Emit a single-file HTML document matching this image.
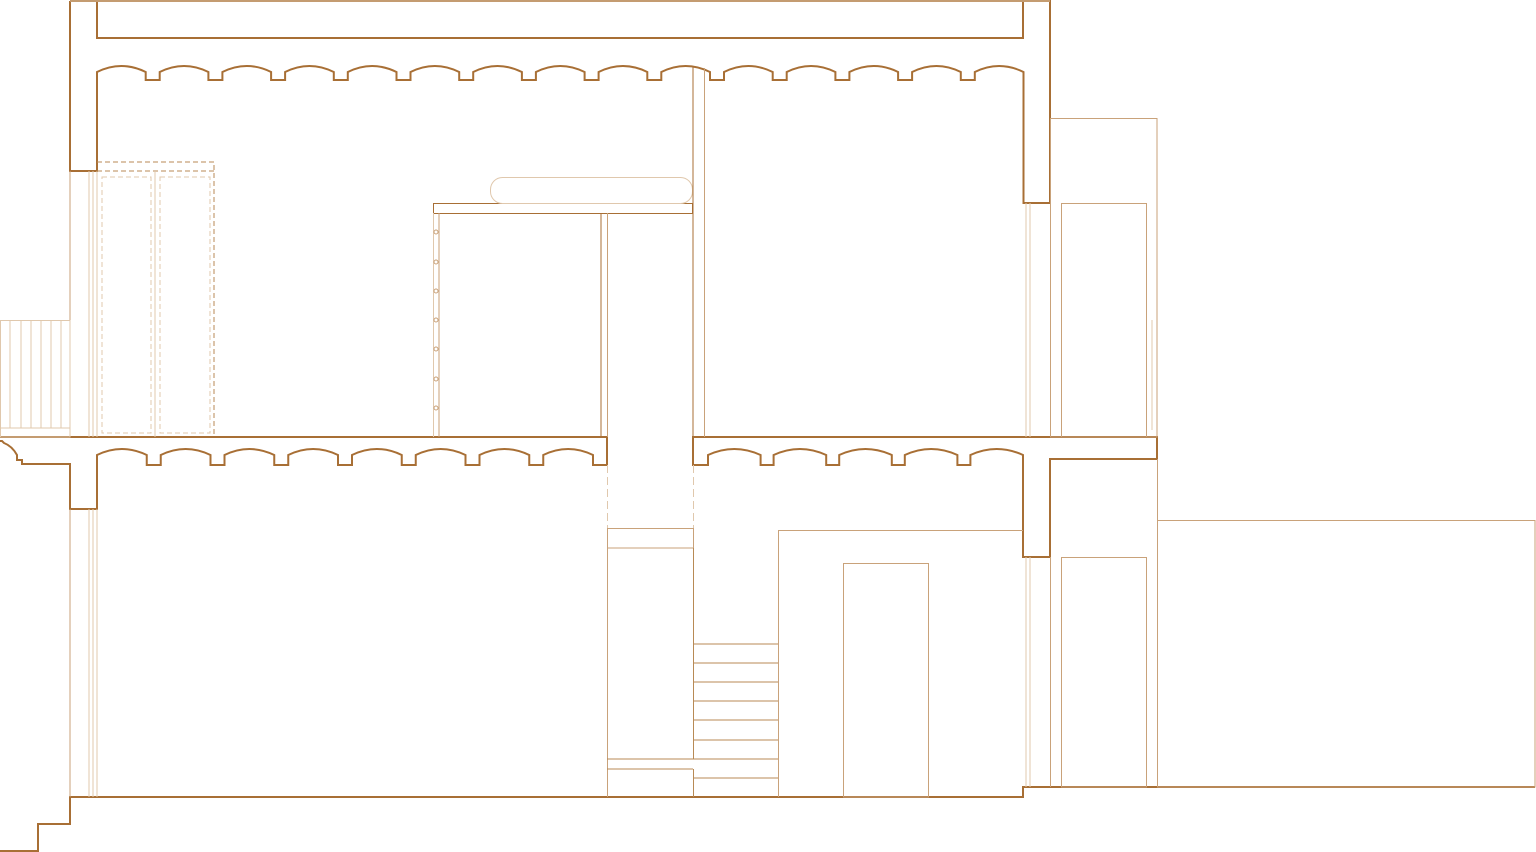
<!DOCTYPE html>
<html><head><meta charset="utf-8"><style>html,body{margin:0;padding:0;background:#fff;}svg{display:block}</style></head>
<body>
<svg width="1536" height="852" viewBox="0 0 1536 852" xmlns="http://www.w3.org/2000/svg" fill="none">
<g stroke="#a86f35" stroke-width="2" stroke-linejoin="miter">
<!-- roof -->
<path d="M97,1 V38 H1023 V1"/>
<path d="M70,1 V171 H97 V72
q24.35,-12 48.7,0 v8 h14 v-8 q24.35,-12 48.7,0 v8 h14 v-8 q24.35,-12 48.7,0 v8 h14 v-8 q24.35,-12 48.7,0 v8 h14 v-8
q24.35,-12 48.7,0 v8 h14 v-8 q24.35,-12 48.7,0 v8 h14 v-8 q24.35,-12 48.7,0 v8 h14 v-8 q24.35,-12 48.7,0 v8 h14 v-8
q24.35,-12 48.7,0 v8 h14 v-8 q24.35,-12 48.7,0 v8 h14 v-8 q24.35,-12 48.7,0 v8 h14 v-8 q24.35,-12 48.7,0 v8 h14 v-8
q24.35,-12 48.7,0 v8 h14 v-8 q24.35,-12 48.7,0 v8 h14 v-8 q24.35,-12 48.7,0
V203 H1050 V1 H70"/>
<!-- floor 1 left -->
<path d="M0,437 H607 V465 H593 V455
q-24.875,-12 -49.75,0 v10 h-14 v-10 q-24.875,-12 -49.75,0 v10 h-14 v-10 q-24.875,-12 -49.75,0 v10 h-14 v-10
q-24.875,-12 -49.75,0 v10 h-14 v-10 q-24.875,-12 -49.75,0 v10 h-14 v-10 q-24.875,-12 -49.75,0 v10 h-14 v-10
q-24.875,-12 -49.75,0 v10 h-14 v-10 q-24.875,-12 -49.75,0
V509 H70 V464 H22 V460 H17 V455 Q12,446 4,443 L2,441 L0,441"/>
<!-- floor 1 right -->
<path d="M693,437 H1157 V459 H1050 V557 H1023 V455
q-26.3,-12 -52.6,0 v10 h-13 v-10 q-26.3,-12 -52.6,0 v10 h-13 v-10 q-26.3,-12 -52.6,0 v10 h-13 v-10
q-26.3,-12 -52.6,0 v10 h-13 v-10 q-26.3,-12 -52.6,0 V465 H693 Z"/>
<!-- ground -->
<path d="M0,851 H38 V824 H70 V797 H1023 V787 H1535"/>
</g>
<g stroke="#c9a27a" stroke-width="1">
<line x1="70" y1="1" x2="1050" y2="1" stroke="#e0c8ad"/>
<!-- left walls -->
<line x1="70" y1="171" x2="70" y2="437"/><line x1="89" y1="171" x2="89" y2="437" stroke="#e0c8ad"/><line x1="93" y1="171" x2="93" y2="437" stroke="#e0c8ad"/><line x1="97" y1="171" x2="97" y2="437" stroke="#e0c8ad"/>
<line x1="70" y1="509" x2="70" y2="797"/><line x1="89" y1="509" x2="89" y2="797" stroke="#e0c8ad"/><line x1="93" y1="509" x2="93" y2="797" stroke="#e0c8ad"/><line x1="97" y1="509" x2="97" y2="797" stroke="#e0c8ad"/>
<!-- balcony -->
<rect x="0.5" y="320.5" width="69.5" height="116.5" stroke="#e0c8ad"/>
<g stroke="#e0c8ad"><line x1="10" y1="321" x2="10" y2="428"/><line x1="21" y1="321" x2="21" y2="428"/><line x1="31" y1="321" x2="31" y2="428"/><line x1="41" y1="321" x2="41" y2="428"/><line x1="51" y1="321" x2="51" y2="428"/><line x1="61" y1="321" x2="61" y2="428"/><line x1="0" y1="428" x2="70" y2="428"/></g>
<!-- wardrobe -->
<path d="M97,162 H214 V437 M97,171 H214" stroke="#b88a55" stroke-dasharray="5,3"/>
<rect x="102" y="177" width="49" height="256" stroke="#e0c8ad" stroke-dasharray="5,3"/>
<rect x="160" y="177" width="50" height="256" stroke="#e0c8ad" stroke-dasharray="5,3"/>
<line x1="155" y1="171" x2="155" y2="437" stroke="#e0c8ad"/>
<!-- loft -->
<rect x="433.5" y="203.5" width="259" height="10" stroke="#a86f35"/>
<rect x="490.5" y="177.5" width="202" height="26" rx="12" stroke="#e0c8ad"/>
<line x1="433.5" y1="213" x2="433.5" y2="437" stroke="#e0c8ad"/><line x1="439" y1="213" x2="439" y2="437"/>
<g stroke="#c9a27a"><circle cx="436" cy="232" r="2"/><circle cx="436" cy="262" r="2"/><circle cx="436" cy="291" r="2"/><circle cx="436" cy="320" r="2"/><circle cx="436" cy="349" r="2"/><circle cx="436" cy="379" r="2"/><circle cx="436" cy="408" r="2"/></g>
<line x1="601" y1="213" x2="601" y2="437" stroke="#a86f35"/><line x1="607.5" y1="213" x2="607.5" y2="437"/>
<line x1="693" y1="66" x2="693" y2="437" stroke="#a86f35"/><line x1="704.5" y1="68" x2="704.5" y2="437"/>
<!-- right upper -->
<rect x="1050.5" y="118.5" width="106.5" height="318.5"/>
<rect x="1061.5" y="203.5" width="85" height="233.5"/>
<line x1="1152" y1="320" x2="1152" y2="430" stroke="#e0c8ad"/>
<line x1="1026" y1="203" x2="1026" y2="437" stroke="#e0c8ad"/><line x1="1030" y1="203" x2="1030" y2="437" stroke="#e0c8ad"/>
<!-- stair core -->
<line x1="607.5" y1="465" x2="607.5" y2="528" stroke="#e0c8ad" stroke-dasharray="8,4"/>
<line x1="693.5" y1="465" x2="693.5" y2="528" stroke="#e0c8ad" stroke-dasharray="8,4"/>
<rect x="607.5" y="528.5" width="86" height="19.5"/>
<line x1="607.5" y1="548" x2="607.5" y2="797"/><line x1="693.5" y1="548" x2="693.5" y2="759" stroke="#b88a55"/>
<g stroke="#b88a55"><line x1="693" y1="644" x2="778" y2="644"/><line x1="693" y1="663" x2="778" y2="663"/><line x1="693" y1="682" x2="778" y2="682"/><line x1="693" y1="701" x2="778" y2="701"/><line x1="693" y1="720" x2="778" y2="720"/><line x1="693" y1="740" x2="778" y2="740"/><line x1="607" y1="759" x2="778" y2="759"/><line x1="607" y1="769" x2="693" y2="769"/><line x1="693.5" y1="769" x2="693.5" y2="797"/><line x1="693" y1="778" x2="778" y2="778"/></g>
<path d="M778.5,797 V530.5 H1023"/>
<rect x="843.5" y="563.5" width="85" height="233.5"/>
<!-- right lower -->
<line x1="1026" y1="557" x2="1026" y2="787" stroke="#e0c8ad"/><line x1="1030" y1="557" x2="1030" y2="787" stroke="#e0c8ad"/>
<line x1="1050.5" y1="557" x2="1050.5" y2="787"/>
<rect x="1061.5" y="557.5" width="85" height="229.5"/>
<line x1="1157.5" y1="459" x2="1157.5" y2="787"/>
<rect x="1157.5" y="520.5" width="377.5" height="266.5"/>
</g>
</svg>
</body></html>
